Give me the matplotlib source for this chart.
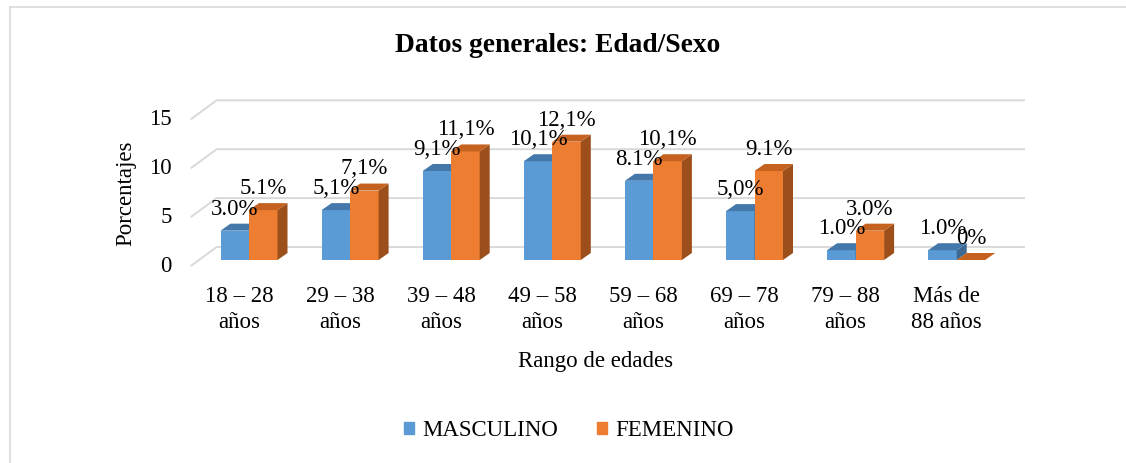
import numpy as np
import matplotlib
matplotlib.use('Agg')
import matplotlib.pyplot as plt
from matplotlib.patches import Polygon, Patch
from matplotlib.lines import Line2D

plt.rcParams['font.family'] = ['Liberation Serif', 'DejaVu Serif']

# data
rangos = ['18 – 28\naños', '29 – 38\naños', '39 – 48\naños', '49 – 58\naños',
          '59 – 68\naños', '69 – 78\naños', '79 – 88\naños', 'Más de\n88 años']
masculino = [3.0, 5.1, 9.1, 10.1, 8.1, 5.0, 1.0, 1.0]
femenino = [5.1, 7.1, 11.1, 12.1, 10.1, 9.1, 3.0, 0.0]
etiq_masc = ['3.0%', '5,1%', '9,1%', '10,1%', '8.1%', '5,0%', '1.0%', '1.0%']
etiq_fem = ['5.1%', '7,1%', '11,1%', '12,1%', '10,1%', '9.1%', '3.0%', '0%']
yticks = [0, 5, 10, 15]

W, H = 1126, 463
fig = plt.figure(figsize=(W/100, H/100), dpi=100)

# pixel layout of plot area
px_c0, px_step = 249.0, 101.1    # first group center, group spacing
px_base, px_unit = 260.0, 9.78   # baseline y, pixels per percent
l_px, r_px, t_px, b_px = 180, 1040, 80, 290
ax = fig.add_axes([l_px/W, 1-b_px/H, (r_px-l_px)/W, (b_px-t_px)/H])
ax.set_xlim((l_px-px_c0)/px_step, (r_px-px_c0)/px_step)
ax.set_ylim((px_base-b_px)/px_unit, (px_base-t_px)/px_unit)
ax.axis('off')

sx = 1/px_step
sy = 1/px_unit
bw = 28.5*sx          # bar width
ddx, ddy = 10*sx, 7*sy  # bar depth

# grid (3d wall)
gx_front = (190.7-px_c0)*sx
gx_back = (216.7-px_c0)*sx
gx_end = (1025-px_c0)*sx
off_f = -0.62
off_b = (px_base-247)*sy
for v in yticks:
    ax.plot([gx_front, gx_back, gx_end], [v+off_f, v+off_b, v+off_b],
            color='#d9d9d9', lw=1.4, zorder=1, solid_capstyle='butt')
    ax.text(gx_front-19*sx, v+off_f*1.1, str(v), ha='right', va='center',
            fontsize=16.5, color='#000000')

x = np.arange(len(rangos))

def bar3d(xl, vals, front, top, side):
    ax.bar(xl, vals, width=bw, align='edge', color=front, zorder=3, lw=0)
    for xi, h in zip(xl, vals):
        ax.add_patch(Polygon([(xi+bw, 0), (xi+bw, h), (xi+bw+ddx, h+ddy), (xi+bw+ddx, ddy)],
                             closed=True, color=side, lw=0, zorder=3))
        ax.add_patch(Polygon([(xi, h), (xi+bw, h), (xi+bw+ddx, h+ddy), (xi+ddx, h+ddy)],
                             closed=True, color=top, lw=0, zorder=3))

bar3d(x-bw, masculino, '#5b9bd5', '#4477aa', '#3c6893')
bar3d(x, femenino, '#ed7d31', '#c5621f', '#9c4f1b')

for xi, v, s in zip(x, masculino, etiq_masc):
    ax.text(xi-bw/2, v+1.65, s, ha='center', va='baseline', fontsize=16.5, zorder=5)
for xi, v, s in zip(x, femenino, etiq_fem):
    ax.text(xi+bw/2, v+1.65, s, ha='center', va='baseline', fontsize=16.5, zorder=5)

for xi, s in zip(x, rangos):
    ax.text(xi-0.1, (px_base-286)*sy, s, ha='center', va='top', fontsize=16.5,
            linespacing=1.3, clip_on=False)

fig.text(558/W, 1-45/H, 'Datos generales: Edad/Sexo', ha='center', va='center',
         fontsize=19.8, fontweight='bold')
fig.text(596/W, 1-361/H, 'Rango de edades', ha='center', va='center', fontsize=16.5)
fig.text(126/W, 1-193/H, 'Porcentajes', ha='center', va='center', rotation=90, fontsize=16.5)

handles = [Patch(color='#5b9bd5', label='MASCULINO'), Patch(color='#ed7d31', label='FEMENINO')]
fig.legend(handles=handles, loc='center', bbox_to_anchor=(569/W, 1-431/H), ncol=2,
           frameon=False, fontsize=16.5, handlelength=0.45, handleheight=0.45,
           handletextpad=0.35, columnspacing=1.7)

# outer frame (left and top edges)
fig.add_artist(Line2D([9.5/W, 9.5/W], [0, 1-7/H], color='#d9d9d9', lw=1.2))
fig.add_artist(Line2D([9.5/W, 1], [1-7/H, 1-7/H], color='#d9d9d9', lw=1.2))

fig.savefig('out.png', dpi=100)
